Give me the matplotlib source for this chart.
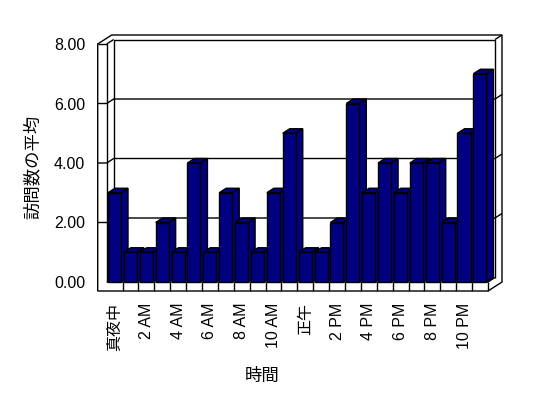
import numpy as np
import matplotlib
matplotlib.use('Agg')
import matplotlib.pyplot as plt
from matplotlib.patches import Polygon

# average visits per hour (0..23)
visits = [3, 1, 1, 2, 1, 4, 1, 3, 2, 1, 3, 5, 1, 1, 2, 6, 3, 4, 3, 4, 4, 2, 5, 7]
hour_labels = ['真夜中', '2 AM', '4 AM', '6 AM', '8 AM', '10 AM',
               '正午', '2 PM', '4 PM', '6 PM', '8 PM', '10 PM']
y_ticks = [0, 2, 4, 6, 8]

plt.rcParams['font.family'] = ['Liberation Sans', 'Noto Sans CJK JP']
plt.rcParams['font.size'] = 11.5

W, H = 548, 398
fig = plt.figure(figsize=(W / 100, H / 100), dpi=100)
ax_l, ax_r, ax_t, ax_b = 106.7, 488.0, 44.0, 282.0
ax = fig.add_axes([ax_l / W, (H - ax_b) / H, (ax_r - ax_l) / W, (ax_b - ax_t) / H])
n = len(visits)
ax.set_xlim(0, n)
ax.set_ylim(0, 8)
ax.patch.set_visible(False)
for s in ax.spines.values():
    s.set_visible(False)

# pixel -> data units
ux = n / (ax_r - ax_l)
uy = 8 / (ax_b - ax_t)
dx1, dy1 = 7 * ux, 4.5 * uy      # depth to back wall
dx2, dy2 = 14 * ux, 9 * uy       # outer edge of back wall
tw, th = 9 * ux, 9 * uy          # wall / floor thickness
top = 8


def seg(pts, z=2):
    xs, ys = zip(*pts)
    ax.plot(xs, ys, color='black', lw=1, clip_on=False, zorder=z,
            solid_capstyle='butt', solid_joinstyle='miter')


# outline of walls and floor
outline = [(-tw, top), (-tw, -th), (n, -th), (n + dx2, -th + dy2),
           (n + dx2, top + dy2), (-tw + dx2, top + dy2)]
ax.add_patch(Polygon(outline, closed=True, facecolor='white', edgecolor='black',
                     lw=1, clip_on=False, zorder=1))

# left wall
seg([(-tw, top), (0, top), (0, 0)])
seg([(0, top), (dx1, top + dy1)])
seg([(dx1, 0 + dy1), (dx1, top + dy1), (n + dx1, top + dy1), (n + dx1, dy1)])
seg([(n + dx1, top + dy1), (n + dx2, top + dy2)])
# gridlines with ticks on left wall
for v in y_ticks[1:-1]:
    seg([(-tw, v), (0, v), (dx1, v + dy1), (n + dx1, v + dy1), (n + dx2, v + dy2)])
# floor
seg([(0, 0), (n, 0), (n + dx1, dy1)])
seg([(n, 0), (n, -th)])
for i in range(1, n):
    seg([(i, 0), (i, -th)])

# bars
bx = np.arange(n) + 0.08
bw = 0.82
navy = '#000080'
bars = ax.bar(bx, visits, width=bw, align='edge', color=navy, edgecolor='black',
              lw=1, clip_on=False)
for i, (p, v) in enumerate(zip(bars, visits)):
    x0, x1 = bx[i], bx[i] + bw
    z = 3 + i * 0.01
    p.set_zorder(z + 0.005)
    side = [(x1, 0), (x1, v), (x1 + dx1, v + dy1), (x1 + dx1, dy1)]
    cap = [(x0, v), (x1, v), (x1 + dx1, v + dy1), (x0 + dx1, v + dy1)]
    for face in (side, cap):
        ax.add_patch(Polygon(face, closed=True, facecolor=navy, edgecolor='black',
                             lw=1, clip_on=False, zorder=z))

ax.set_xticks(np.arange(0, n, 2) + 0.5)
ax.set_xticklabels(hour_labels, rotation=90, va='top', ha='center')
ax.set_yticks(y_ticks)
ax.set_yticklabels([f'{v:.2f}' for v in y_ticks])
ax.tick_params(axis='x', length=0, pad=15)
ax.tick_params(axis='y', length=0, pad=15.6)

ax.set_xlabel('時間', fontsize=12.5, va='center')
ax.xaxis.set_label_coords((262 - ax_l) / (ax_r - ax_l), -(376 - ax_b) / (ax_b - ax_t))
ax.set_ylabel('訪問数の平均', fontsize=12.5, va='center')
ax.yaxis.set_label_coords((32 - ax_l) / (ax_r - ax_l), (ax_b - 167) / (ax_b - ax_t))

fig.savefig('out.png', dpi=100, facecolor='white')
